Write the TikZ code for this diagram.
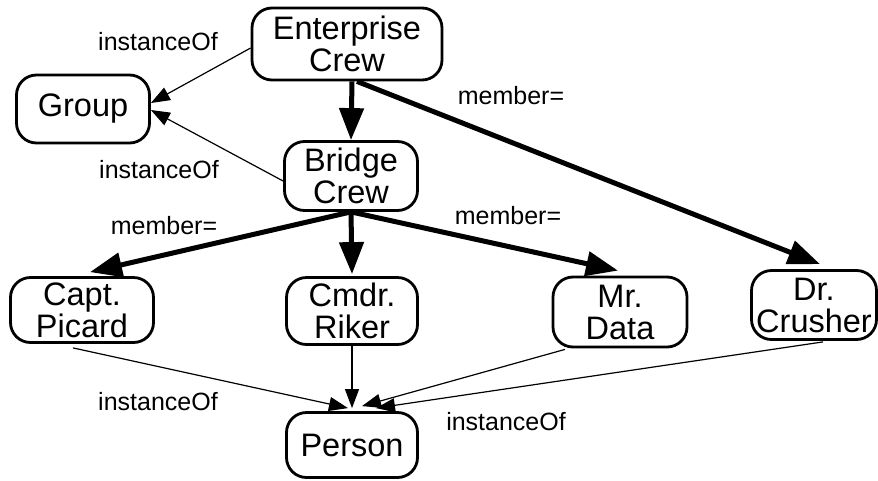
\documentclass[tikz,border=0pt]{standalone}
\usepackage{fontspec}
\setmainfont{Liberation Sans}
\usetikzlibrary{arrows.meta}
\tikzset{
  concept/.style={draw,line width=2.8pt,rounded corners=20pt,align=center,inner sep=0pt,
    font=\fontsize{32.5}{32}\selectfont},
  member/.style={line width=5pt,-{Triangle[length=32pt,width=24pt]}},
  inst/.style={line width=1.2pt,-{Triangle[length=19pt,width=14pt]}},
  lbl/.style={font=\fontsize{25}{26}\selectfont}
}
\begin{document}
\begin{tikzpicture}[x=1pt,y=-1pt]
\useasboundingbox (0,0) rectangle (878,480);

\node[concept,minimum width=190,minimum height=72] (ent) at (347,44) {Enterprise\\Crew};
\node[concept,minimum width=133,minimum height=68] (group) at (83,109) {Group};
\node[concept,minimum width=133,minimum height=69] (bridge) at (351,176) {Bridge\\Crew};
\node[concept,minimum width=143,minimum height=65] (picard) at (82,310) {Capt.\\Picard};
\node[concept,minimum width=131,minimum height=67] (riker) at (352,311) {Cmdr.\\Riker};
\node[concept,minimum width=134,minimum height=70] (data) at (620,312) {Mr.\\Data};
\node[concept,minimum width=125,minimum height=69] (crusher) at (814,305) {Dr.\\Crusher};
\node[concept,minimum width=131,minimum height=65] (person) at (352,445) {Person};

% member= links
\draw[member] ([xshift=5pt]ent.south) -- (bridge.north);
\draw[member] ([xshift=10pt]ent.south) -- ([xshift=6pt,yshift=5pt]crusher.north);
\draw[member] (bridge.south) -- ([xshift=8pt,yshift=4pt]picard.north);
\draw[member] (bridge.south) -- ([yshift=2pt]riker.north);
\draw[member] (bridge.south) -- ([xshift=-2pt,yshift=5pt]data.north);

% instanceOf links
\draw[inst] ([yshift=-4pt]ent.west) -- ([yshift=6pt]group.east);
\draw[inst] ([yshift=-5pt]bridge.west) -- ([yshift=-1pt]group.east);
\draw[inst] ([xshift=-9pt,yshift=-4pt]picard.south) -- ([xshift=-4pt,yshift=3pt]person.north);
\draw[inst] (riker.south) -- ([yshift=3pt]person.north);
\draw[inst] ([xshift=-55pt,yshift=-1pt]data.south) -- ([xshift=10pt,yshift=5pt]person.north);
\draw[inst] ([xshift=9pt,yshift=-1pt]crusher.south) -- ([xshift=24pt,yshift=3pt]person.north);

\node[lbl] (l1) at (158,42) {instanceOf};
\node[lbl] (l2) at (511,96) {member=};
\node[lbl] (l3) at (159,170) {instanceOf};
\node[lbl] (l4) at (164,226) {member=};
\node[lbl] (l5) at (508,216) {member=};
\node[lbl] (l6) at (158,402) {instanceOf};
\node[lbl] (l7) at (506,422) {instanceOf};
\end{tikzpicture}
\end{document}
